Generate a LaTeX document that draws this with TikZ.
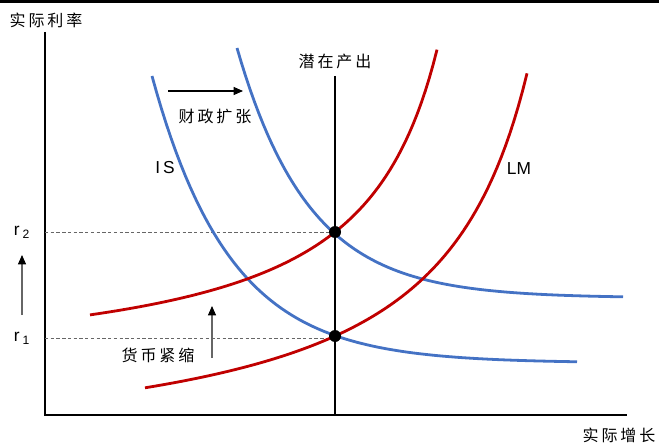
\documentclass[tikz,border=0pt]{standalone}
\usepackage{fontspec}
\setmainfont{Liberation Sans}
\newfontfamily\cjk[LetterSpace=18]{Noto Sans CJK SC}
\usetikzlibrary{arrows.meta, calc}

\definecolor{isblue}{RGB}{68,114,196}
\definecolor{lmred}{RGB}{192,0,0}

\begin{document}
\begin{tikzpicture}[x=0.75pt, y=-0.75pt,
    axisstyle/.style={black, line width=1.6pt},
    isstyle/.style={isblue, line width=2.1pt},
    lmstyle/.style={lmred, line width=2.1pt},
    guidestyle/.style={gray!80!black, line width=0.5pt, dash pattern=on 2.5pt off 1.8pt},
    shiftstyle/.style={-{Triangle[length=7pt, width=6pt]}, line width=0.8pt},
    tipstyle/.style={-{Triangle[length=7pt, width=6pt, fill=black, color=black]}},
    vertex/.style={circle, fill=black, inner sep=0pt, minimum size=9pt},
    cjklabel/.style={font=\cjk\fontsize{12}{14}\selectfont, inner sep=1pt},
    curvelabel/.style={font=\fontsize{13}{15}\selectfont, inner sep=1pt}]
  \useasboundingbox (0,0) rectangle (659,445);
  % top bar
  \fill (0,0) rectangle (659,3);
  % axes
  \coordinate (O) at (45,415);
  \coordinate (Ytop) at (45,32);
  \coordinate (Xend) at (627,415);
  \draw[axisstyle] (Ytop) -- (O) -- (Xend);
  \node[cjklabel] (ylab) at (46,20) {实际利率};
  \node[cjklabel] (xlab) at (619,435) {实际增长};
  % potential output
  \coordinate (Ptop) at (335,76);
  \coordinate (Pbot) at (335,415);
  \draw[black, line width=2.1pt] (Ptop) -- (Pbot);
  \node[cjklabel] (plab) at (335,61) {潜在产出};
  % equilibria
  \coordinate (E2) at (335,232);
  \coordinate (E1) at (335,336);
  \coordinate (A2) at (45,232);
  \coordinate (A1) at (45,338);
  \draw[guidestyle] (A2) -- (E2);
  \draw[guidestyle] (A1) -- (E1 |- A1);
  \node[curvelabel] (r2) at (22,232) {r\,\textsubscript{2}};
  \node[curvelabel] (r1) at (22,338) {r\,\textsubscript{1}};
  % IS curves
  \draw[isstyle] plot[domain=152:577, samples=90] (\x, {363 - 287*exp(-(\x-152)/78)});
  \draw[isstyle] plot[domain=237:623, samples=90] (\x, {298 - 250*exp(-(\x-237)/72)});
  % LM curves
  \draw[lmstyle] plot[domain=90:437, samples=90] (\x, {376.8 - 265*(100/(518-\x))});
  \draw[lmstyle] plot[domain=145:527, samples=90] (\x, {466 - 373*(100/(622-\x))});
  \node[vertex] (dot2) at (E2) {};
  \node[vertex] (dot1) at (E1) {};
  % curve names
  \node[curvelabel] (islab) at (165,168) {I\,S};
  \node[curvelabel] (lmlab) at (519,169) {LM};
  % shifts
  \coordinate (F0) at (168,91);
  \coordinate (F1) at (243,91);
  \draw[shiftstyle] (F0) -- (F1);
  \node[cjklabel] (fiscal) at (215,116) {财政扩张};
  \coordinate (M0) at (212,358);
  \coordinate (M1) at (212,306);
  \draw[shiftstyle, gray!80!black, tipstyle] (M0) -- (M1);
  \node[cjklabel] (money) at (158,355) {货币紧缩};
  \coordinate (R0) at (22,315);
  \coordinate (R1) at (22,255);
  \draw[shiftstyle, gray!80!black, tipstyle] (R0) -- (R1);
\end{tikzpicture}
\end{document}
